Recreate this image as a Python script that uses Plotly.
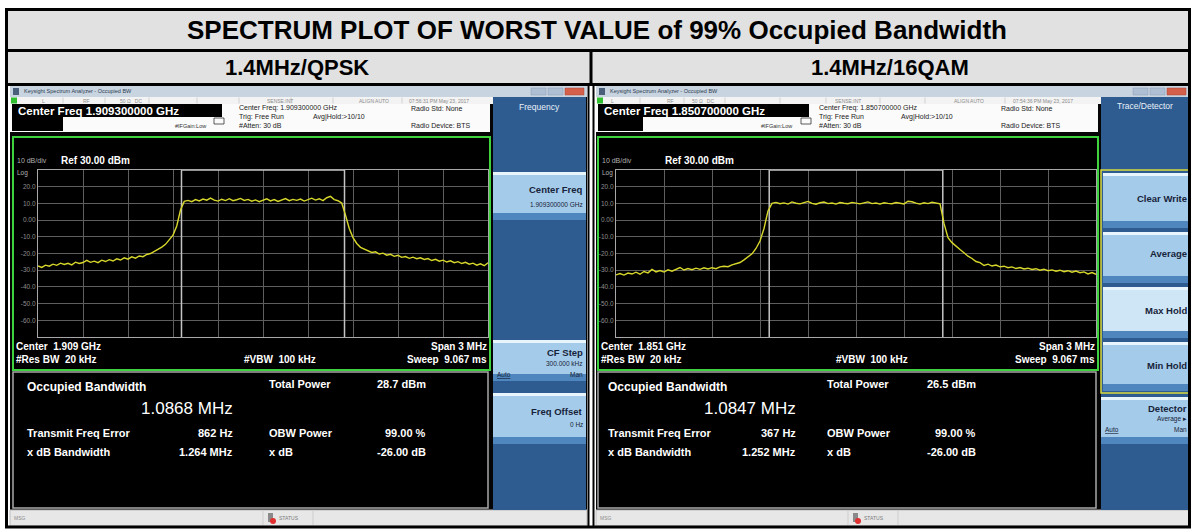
import numpy as np
import plotly.graph_objects as go

W, H = 1195, 529
FONT = "Liberation Sans, Arial, sans-serif"

# ---------------- data ----------------
title_text = "SPECTRUM PLOT OF WORST VALUE of 99% Occupied Bandwidth"
column_titles = ["1.4MHz/QPSK", "1.4MHz/16QAM"]

freq_offset_mhz = np.linspace(-1.5, 1.5, 121)   # span 3 MHz sweep points

qpsk_trace_dbm = [
    -27.5, -28.3, -27.0, -27.6, -26.4, -27.1, -25.8, -26.6, -25.9, -26.8,
    -25.2, -26.0, -25.4, -24.1, -25.3, -24.6, -25.5, -24.0, -24.8, -23.7,
    -24.5, -23.2, -23.9, -22.6, -23.4, -22.0, -22.8, -21.5, -21.9, -20.6,
    -20.0, -18.7, -17.9, -16.2, -14.5, -12.0, -9.0, -3.5, 6.0, 11.2,
    11.8, 11.0, 12.3, 11.5, 12.6, 11.9, 13.2, 12.0, 11.4, 12.5,
    11.7, 12.8, 11.6, 12.2, 13.0, 11.8, 12.4, 11.3, 12.1, 11.0,
    11.9, 12.7, 11.5, 12.3, 11.2, 12.0, 12.9, 11.6, 12.4, 11.8,
    12.6, 11.4, 12.2, 13.1, 12.0, 12.8, 11.7, 13.4, 14.2, 12.3,
    11.6, 10.2, 3.0, -5.0, -10.5, -14.0, -16.3, -17.5, -18.2, -19.4,
    -19.0, -20.3, -19.8, -21.0, -20.5, -21.7, -21.1, -22.3, -21.8, -22.9,
    -22.2, -23.1, -22.6, -23.6, -23.0, -24.2, -23.5, -24.6, -24.0, -25.1,
    -24.4, -25.5, -24.9, -26.0, -25.3, -26.4, -25.8, -27.0, -26.2, -27.3,
    -25.6,
]
qam16_trace_dbm = [
    -32.8, -32.0, -32.9, -31.7, -32.3, -31.2, -32.4, -30.8, -31.6, -29.5,
    -31.0, -30.2, -31.1, -29.8, -30.6, -29.4, -28.4, -29.9, -29.0, -29.7,
    -28.8, -29.5, -28.6, -29.3, -28.5, -29.1, -28.0, -27.6, -27.9, -26.8,
    -26.2, -25.4, -23.8, -22.0, -20.2, -17.0, -12.5, -5.0, 5.5, 10.0,
    10.6, 9.8, 10.3, 9.6, 10.9, 10.1, 9.7, 10.5, 11.2, 10.0,
    9.5, 10.4, 10.8, 9.9, 10.2, 9.6, 10.5, 10.1, 9.8, 10.6,
    10.0, 9.7, 10.3, 10.9, 9.9, 10.2, 9.6, 10.4, 10.0, 9.8,
    10.5, 10.1, 9.7, 11.3, 11.0, 10.2, 9.6, 10.4, 9.9, 10.7,
    10.3, 9.8, -2.0, -10.5, -13.5, -15.8, -17.6, -19.5, -21.6, -23.0,
    -24.8, -25.5, -27.2, -26.4, -27.5, -26.9, -28.0, -27.6, -28.5, -28.0,
    -29.0, -28.4, -29.3, -28.8, -29.6, -29.1, -30.0, -29.4, -30.3, -29.8,
    -30.6, -30.0, -30.9, -30.3, -31.2, -30.5, -31.5, -31.0, -32.2, -31.4,
    -32.5,
]
assert len(qpsk_trace_dbm) == 121 and len(qam16_trace_dbm) == 121

center_freq_ghz = ["1.909300000", "1.850700000"]
center_short_ghz = ["1.909", "1.851"]
timestamps = ["07:56:31 PM May 23, 2017", "07:54:36 PM May 23, 2017"]
obw_mhz = [1.0868, 1.0847]
total_power_dbm = [28.7, 26.5]
freq_error_hz = [862, 367]
xdb_bw_mhz = [1.264, 1.252]
obw_power_pct = [99.00, 99.00]
xdb_db = [-26.00, -26.00]
ref_level_dbm = 30.0
y_tick_vals = [20, 10, 0, -10, -20, -30, -40, -50, -60]
y_tick_text = ["20.0", "10.0", "0.00", "-10.0", "-20.0", "-30.0", "-40.0", "-50.0", "-60.0"]

# ---------------- helpers ----------------
shapes, annotations = [], []


def rect(x0, y0, x1, y1, fill=None, lc=None, lw=0):
    shapes.append(dict(type="rect", xref="paper", yref="paper",
                       x0=x0 / W, x1=x1 / W, y0=1 - y1 / H, y1=1 - y0 / H,
                       fillcolor=fill or "rgba(0,0,0,0)",
                       line=dict(color=lc or "rgba(0,0,0,0)", width=lw),
                       layer="below"))


def line(x0, y0, x1, y1, color, lw=1):
    shapes.append(dict(type="line", xref="paper", yref="paper",
                       x0=x0 / W, x1=x1 / W, y0=1 - y0 / H, y1=1 - y1 / H,
                       line=dict(color=color, width=lw), layer="below"))


def text(x, y, s, size, color="#000000", bold=False, anchor="left"):
    annotations.append(dict(xref="paper", yref="paper", x=x / W, y=1 - y / H,
                            text=f"<b>{s}</b>" if bold else s, showarrow=False,
                            xanchor=anchor, yanchor="middle", borderpad=0,
                            font=dict(size=size, color=color, family=FONT)))


def button(x0, y0, x1, y1, light=False):
    rect(x0, y0, x1, y1, fill="#cfe6f7" if light else "#a4cbe9")
    rect(x0, y0, x1, y0 + 3, fill="#e9f5fd")
    rect(x0, y1 - 7, x1, y1, fill="#4f86bd")


NAVY = "#17233a"

panels = [
    dict(X0=10, X1=587, cfbox=222, smallbox=63, info_x=238, avg_x=312, ifg_x=207,
         radio_x=410, gx0=13, gx1=490, px0=38, px1=488, sk0=493, sk1=586,
         status=[(41, "L"), (82, "RF"), (119, "50 Ω   DC"), (266, "SENSE:INT"),
                 (358, "ALIGN AUTO")], ts_x=408,
         seps=[63, 105, 149, 197, 239, 291, 333, 402],
         refx=60, vbw_x=243, lab_x=26, val_r=234, c3_x=268, c4_r=427,
         status_x=268),
    dict(X0=596, X1=1189, cfbox=809, smallbox=643, info_x=818, avg_x=900, ifg_x=793,
         radio_x=1000, gx0=598, gx1=1098, px0=616, px1=1096, sk0=1101, sk1=1189,
         status=[(610, "L"), (666, "RF"), (691, "50 Ω   DC"), (834, "SENSE:INT"),
                 (953, "ALIGN AUTO")], ts_x=1012,
         seps=[640, 684, 725, 780, 826, 880, 925, 1005],
         refx=664, vbw_x=835, lab_x=607, val_r=797, c3_x=826, c4_r=977,
         status_x=853),
]

# ---------------- table frame ----------------
rect(6, 9, 1190, 50, fill="#e1e1e1")
rect(6, 50, 1190, 84, fill="#e1e1e1")
rect(6, 84, 1190, 527, fill="#ffffff")

for i, p in enumerate(panels):
    X0, X1, gx0, gx1, sk0, sk1 = p["X0"], p["X1"], p["gx0"], p["gx1"], p["sk0"], p["sk1"]
    # screenshot background
    rect(X0, 86, X1, 526, fill="#050505")
    # window title bar
    rect(X0, 86, X1, 97, fill="#c8d4e0")
    rect(X0 + 3, 88, X0 + 9, 95, fill="#4a5f7a")
    text(X0 + 13, 91.5, "Keysight Spectrum Analyzer - Occupied BW", 5.5, "#2b3b50")
    rect(X1 - 56, 88, X1 - 41, 95, fill="#aebfd3", lc="#8a9db5", lw=0.5)
    rect(X1 - 39, 88, X1 - 24, 95, fill="#aebfd3", lc="#8a9db5", lw=0.5)
    rect(X1 - 22, 88, X1 - 3, 95, fill="#d4604c", lc="#a84030", lw=0.5)
    # status row
    rect(X0, 97, sk0, 104, fill="#f3f3f3")
    rect(X0 + 1, 97.5, X0 + 7, 103.5, fill="#2fbf2f")
    for sx in p["seps"]:
        line(sx, 97.5, sx, 103.5, "#c4c4c4", 0.7)
    for sx, s in p["status"]:
        text(sx, 100.7, s, 5, "#8c8c8c")
    text(p["ts_x"], 100.7, timestamps[i], 5, "#8c8c8c")
    # info band
    rect(X0, 104, gx1, 132, fill="#fbfbfb")
    rect(X0 + 2, 104, p["cfbox"], 117, fill="#000000")
    rect(X0 + 2, 117, p["smallbox"], 131, fill="#000000")
    text(X0 + 7, 110.5, f"Center Freq {center_freq_ghz[i]} GHz", 11.5, "#ffffff", bold=True)
    rect(p["cfbox"] - 8, 118, p["cfbox"] + 2, 124, lc="#333333", lw=0.8)
    text(p["info_x"], 108.5, f"Center Freq: {center_freq_ghz[i]} GHz", 7, "#222222")
    text(p["info_x"], 116.5, "Trig: Free Run", 7, "#222222")
    text(p["avg_x"], 117, "Avg|Hold:&gt;10/10", 7, "#222222")
    text(p["info_x"], 125, "#Atten: 30 dB", 7, "#222222")
    text(p["ifg_x"], 126.5, "#IFGain:Low", 5.5, "#333333", anchor="right")
    text(p["radio_x"], 108.5, "Radio Std: None", 7, "#222222")
    text(p["radio_x"], 125, "Radio Device: BTS", 7, "#222222")
    # graticule
    rect(gx0, 137, gx1, 370, fill="#000000", lc="#3fd23f", lw=2)
    text(gx0 + 3, 160, "10 dB/div", 7, "#b0b0b0")
    text(p["refx"], 160, f"Ref {ref_level_dbm:.2f} dBm", 10, "#ffffff", bold=True)
    text(gx0 + 3, 173, "Log", 6.5, "#b0b0b0")
    text(gx0 + 2, 346, f"Center  {center_short_ghz[i]} GHz", 10, "#ffffff", bold=True)
    text(p["px1"], 346, "Span 3 MHz", 10, "#ffffff", bold=True, anchor="right")
    text(gx0 + 2, 359, "#Res BW  20 kHz", 10, "#ffffff", bold=True)
    text(p["vbw_x"], 359, "#VBW  100 kHz", 10, "#ffffff", bold=True)
    text(p["px1"], 359, "Sweep  9.067 ms", 10, "#ffffff", bold=True, anchor="right")
    # results panel
    rect(gx0, 372, gx1 - 2, 508, fill="#000000", lc="#a8a8a8", lw=1.5)
    text(p["lab_x"], 387, "Occupied Bandwidth", 12, "#ffffff", bold=True)
    text(p["val_r"], 408, f"{obw_mhz[i]:.4f} MHz", 17, "#ffffff", anchor="right")
    text(p["c3_x"], 384, "Total Power", 11, "#ffffff", bold=True)
    text(p["c4_r"], 384, f"{total_power_dbm[i]:.1f} dBm", 11, "#ffffff", bold=True, anchor="right")
    text(p["lab_x"], 433, "Transmit Freq Error", 11, "#ffffff", bold=True)
    text(p["val_r"], 433, f"{freq_error_hz[i]} Hz", 11, "#ffffff", bold=True, anchor="right")
    text(p["c3_x"], 433, "OBW Power", 11, "#ffffff", bold=True)
    text(p["c4_r"], 433, f"{obw_power_pct[i]:.2f} %", 11, "#ffffff", bold=True, anchor="right")
    text(p["lab_x"], 452, "x dB Bandwidth", 11, "#ffffff", bold=True)
    text(p["val_r"], 452, f"{xdb_bw_mhz[i]:.3f} MHz", 11, "#ffffff", bold=True, anchor="right")
    text(p["c3_x"], 452, "x dB", 11, "#ffffff", bold=True)
    text(p["c4_r"], 452, f"{xdb_db[i]:.2f} dB", 11, "#ffffff", bold=True, anchor="right")
    # bottom status bar
    rect(X0, 510, X1, 526, fill="#e7e7e7", lc="#bcbcbc", lw=1)
    text(X0 + 3, 518, "MSG", 5, "#8c8c8c")
    rect(p["status_x"], 513, p["status_x"] + 5, 522, fill="#8a8a8a")
    shapes.append(dict(type="circle", xref="paper", yref="paper",
                       x0=(p["status_x"] + 2) / W, x1=(p["status_x"] + 8) / W,
                       y0=1 - 524 / H, y1=1 - 518 / H, fillcolor="#e03030",
                       line=dict(width=0), layer="below"))
    text(p["status_x"] + 10, 518, "STATUS", 5, "#7a7a7a")
    line(p["status_x"] - 5, 511, p["status_x"] - 5, 525, "#c4c4c4", 0.7)
    line(p["status_x"] + 45, 511, p["status_x"] + 45, 525, "#c4c4c4", 0.7)
    # softkey column
    rect(sk0, 97, sk1, 510, fill="#2e5c91")
    cx = (sk0 + sk1) / 2
    if i == 0:
        text(cx, 107, "Frequency", 8.5, "#e8f0f8", anchor="center")
        button(sk0, 172, sk1, 220)
        text(sk1 - 2, 189, "Center Freq", 9.5, NAVY, bold=True, anchor="right")
        text(sk1 - 2, 204, f"{center_freq_ghz[i]} GHz", 6.5, NAVY, anchor="right")
        button(sk0, 340, sk1, 381)
        text(sk1 - 2, 352, "CF Step", 9.5, NAVY, bold=True, anchor="right")
        text(sk1 - 2, 363, "300.000 kHz", 6.5, NAVY, anchor="right")
        text(sk0 + 3, 374, "<u>Auto</u>", 6.5, NAVY)
        text(sk1 - 2, 374, "Man", 6.5, NAVY, anchor="right")
        button(sk0, 393, sk1, 444)
        text(sk1 - 2, 411, "Freq Offset", 9.5, NAVY, bold=True, anchor="right")
        text(sk1 - 2, 424, "0 Hz", 6.5, NAVY, anchor="right")
    else:
        text(cx, 106, "Trace/Detector", 8.5, "#e8f0f8", anchor="center")
        button(sk0 + 2, 173, sk1, 228)
        text(sk1 - 1, 198, "Clear Write", 9.5, NAVY, bold=True, anchor="right")
        button(sk0 + 2, 232, sk1, 283)
        text(sk1 - 1, 253, "Average", 9.5, NAVY, bold=True, anchor="right")
        button(sk0 + 2, 287, sk1, 338, light=True)
        text(sk1 - 1, 310, "Max Hold", 9.5, NAVY, bold=True, anchor="right")
        button(sk0 + 2, 342, sk1, 391)
        text(sk1 - 1, 365, "Min Hold", 9.5, NAVY, bold=True, anchor="right")
        rect(sk0, 170, sk1, 393, lc="#dada3c", lw=1.5)
        button(sk0, 397, sk1, 444)
        text(sk1 - 1, 408, "Detector", 9.5, NAVY, bold=True, anchor="right")
        text(sk1 - 1, 419, "Average ▸", 6.5, NAVY, anchor="right")
        text(sk0 + 3, 429, "<u>Auto</u>", 6.5, NAVY)
        text(sk1 - 1, 429, "Man", 6.5, NAVY, anchor="right")

# table borders on top of fills
line(6, 50.5, 1190, 50.5, "#000000", 3)
line(6, 84.5, 1190, 84.5, "#000000", 3)
line(591, 50, 591, 86, "#000000", 3)
line(588.5, 84, 588.5, 527, "#000000", 2)
line(593.5, 84, 593.5, 527, "#000000", 2)
rect(6.5, 9.5, 1189.5, 527, lc="#000000", lw=3)

text(597, 30, title_text, 26, "#000000", bold=True, anchor="center")
text(297, 67.5, column_titles[0], 22, "#000000", bold=True, anchor="center")
text(890, 67.5, column_titles[1], 22, "#000000", bold=True, anchor="center")

# ---------------- traces ----------------
fig = go.Figure()
traces_y = [qpsk_trace_dbm, qam16_trace_dbm]
for i in range(2):
    xa = "x" if i == 0 else "x2"
    ya = "y" if i == 0 else "y2"
    h = obw_mhz[i] / 2
    fig.add_trace(go.Scatter(x=[-h, -h, h, h], y=[-70, ref_level_dbm, ref_level_dbm, -70],
                             mode="lines", line=dict(color="#c4c4c4", width=1.5),
                             xaxis=xa, yaxis=ya, hoverinfo="skip", showlegend=False))
    fig.add_trace(go.Scatter(x=freq_offset_mhz, y=traces_y[i], mode="lines",
                             line=dict(color="#d8d82c", width=1.4),
                             xaxis=xa, yaxis=ya, showlegend=False))

axis_common = dict(showgrid=True, gridcolor="#5e5e5e", gridwidth=1, zeroline=False,
                   showline=True, mirror=True, linecolor="#a8a8a8", linewidth=1.2,
                   fixedrange=True)
for i, p in enumerate(panels):
    sfx = "" if i == 0 else "2"
    fig.layout[f"xaxis{sfx}"] = dict(axis_common, domain=[p["px0"] / W, p["px1"] / W],
                                     range=[-1.5, 1.5], tick0=-1.5, dtick=0.3,
                                     showticklabels=False, ticks="",
                                     anchor=f"y{sfx}")
    fig.layout[f"yaxis{sfx}"] = dict(axis_common, domain=[1 - 337 / H, 1 - 170 / H],
                                     range=[-70, ref_level_dbm], tickmode="array",
                                     tickvals=y_tick_vals, ticktext=y_tick_text, ticks="",
                                     tickfont=dict(size=6.5, color="#8e8e8e", family=FONT),
                                     anchor=f"x{sfx}")

fig.update_layout(width=W, height=H, autosize=False,
                  margin=dict(l=0, r=0, t=0, b=0),
                  paper_bgcolor="#ffffff", plot_bgcolor="rgba(0,0,0,0)",
                  shapes=shapes, annotations=annotations, showlegend=False)

fig.write_html("out.html", config={"displayModeBar": False},
               post_script="document.body.style.margin='0px';document.body.style.overflow='hidden';")
